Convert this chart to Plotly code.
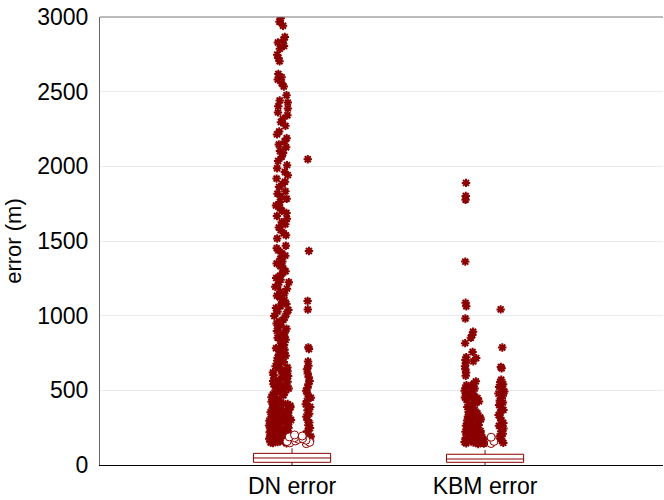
import plotly.graph_objects as go

categories = ["DN error", "KBM error"]
cat_pos = [1, 2]

# box statistics (m)
q1 = [18, 18]
median = [47, 40]
q3 = [78, 72]
lowerfence = [0, 0]
upperfence = [112, 100]

# extreme outliers, DN main column, upper part (sparser)
dn_upper = [2992, 2968, 2941, 2866, 2848, 2829, 2806, 2787, 2748, 2726, 2703,
            2619, 2597, 2581, 2556, 2534, 2476, 2441, 2427, 2403, 2388, 2361, 2342, 2318, 2296, 2271,
            2233, 2214, 2188, 2167, 2146, 2128, 2103, 2089, 2064, 2036, 2008, 1987, 1962, 1941, 1918,
            1897, 1881, 1862, 1833, 1817, 1796, 1783, 1761, 1738, 1722, 1703, 1688, 1667, 1649, 1626,
            1612, 1591, 1573, 1552, 1538, 1517, 1468, 1452, 1437, 1418, 1402, 1381, 1363, 1349, 1331,
            1318, 1297, 1283, 1268, 1252, 1241, 1224, 1207, 1193, 1181, 1162, 1148, 1133, 1121, 1104,
            1092, 1078, 1063, 1051, 1038, 1027, 1012]
# extreme outliers, main column, lower dense part
dn_lower = [998, 987, 973, 962, 948, 937, 921, 912, 898, 886,
            874, 861, 852, 838, 827, 816, 803, 794, 782, 771, 763, 751, 742, 731, 719, 708, 698, 689,
            677, 671, 662, 653, 647, 636, 628, 619, 611, 603, 596, 587, 579, 572, 563, 557, 548, 541,
            533, 527, 518, 512, 506, 499, 491, 486, 478, 472, 467, 459, 454, 448, 441, 436, 431, 424,
            419, 413, 408, 402, 397, 391, 386, 381, 377, 372, 366, 362, 357, 353, 348, 343, 339, 334,
            331, 326, 322, 317, 313, 309, 305, 301, 297, 294, 289, 286, 282, 278, 275, 271, 268, 264,
            261, 257, 254, 251, 247, 244, 241, 238, 234, 231, 228, 225, 222, 219, 216, 213, 211, 208,
            205, 202, 199, 197, 194, 191, 189, 186, 183, 181, 178, 176, 173, 171, 168, 166, 163, 161,
            158, 156, 154, 151, 149, 147, 145]
kbm_main = [893, 871, 852, 757, 716, 694, 560, 545, 528, 512, 498, 486, 471, 463, 452, 448, 437,
            426, 414, 405, 396, 388, 379, 371, 362, 355, 347, 340, 333, 325, 318, 311, 305, 298,
            292, 286, 280, 274, 268, 263, 257, 252, 247, 242, 237, 232, 228, 223, 219, 214, 210,
            206, 202, 198, 194, 190, 187, 183, 180, 176, 173, 170, 166, 163, 160, 157, 154, 151,
            148, 145, 143, 140]

# extreme outliers, right-hand column
dn_right = [2047, 1433, 1098, 1041, 788, 776, 693, 664, 641, 612, 588, 563, 541, 518, 497, 472,
            451, 428, 407, 388, 366, 344, 323, 302, 284, 266, 247, 226, 208, 191, 176, 162]
kbm_right = [1042, 787, 656, 648, 571, 556, 541, 523, 507, 492, 478, 463, 447, 432, 418, 402,
             386, 369, 352, 334, 317, 298, 281, 263, 244, 226, 209, 192, 176, 161, 148]

# extreme outliers, KBM left column
kbm_left = [1889, 1802, 1776, 1362, 1086, 1063, 981, 816, 722, 703, 684, 662, 641, 619, 597,
            534, 514, 497, 476, 452, 437]

# mild outliers (circles)
dn_circles = [201, 194, 188, 183, 177, 172, 166, 161, 157, 152, 148, 143]
kbm_circles = [186, 174, 166, 158, 151, 144]

RED = "#8b0000"
FONT = "Liberation Sans, Arial, sans-serif"

fig = go.Figure()

fig.add_trace(go.Box(
    x=cat_pos, q1=q1, median=median, q3=q3,
    lowerfence=lowerfence, upperfence=upperfence,
    boxpoints=False, width=0.4, whiskerwidth=0,
    fillcolor="white", line=dict(color=RED, width=1),
    hoverinfo="skip",
))


def points_trace(dn_vals, kbm_vals, pointpos, jitter, marker):
    xs = [cat_pos[0]] * len(dn_vals) + [cat_pos[1]] * len(kbm_vals)
    ys = list(dn_vals) + list(kbm_vals)
    return go.Box(
        x=xs, y=ys, boxpoints="all", pointpos=pointpos, jitter=jitter,
        width=0.2, fillcolor="rgba(0,0,0,0)", line=dict(width=0, color="rgba(0,0,0,0)"),
        whiskerwidth=0, marker=marker, hoverinfo="skip",
    )


star = dict(symbol="asterisk-open", size=7, color=RED, line=dict(color=RED, width=2))
circ = dict(symbol="circle", size=8, color="white", line=dict(color=RED, width=1))

fig.add_trace(points_trace([], kbm_circles, 0.0, 0.6, circ))
fig.add_trace(points_trace(dn_lower, kbm_main, -0.6, 0.6, star))
fig.add_trace(points_trace(dn_upper, [], -0.5, 0.4, star))
fig.add_trace(points_trace(dn_right, kbm_right, 0.85, 0.16, star))
fig.add_trace(points_trace([], kbm_left, -1.0, 0.08, star))
fig.add_trace(points_trace(dn_circles, [], 0.35, 0.75, circ))

fig.update_layout(
    width=664, height=500,
    margin=dict(l=100, r=1, t=17, b=35),
    plot_bgcolor="white", paper_bgcolor="white",
    showlegend=False, boxmode="overlay",
    font=dict(family=FONT, size=23, color="black"),
    xaxis=dict(
        range=[0.005, 2.922], tickvals=cat_pos, ticktext=categories,
        showgrid=False, zeroline=False, showline=True, linecolor="black", linewidth=1,
        ticks="", tickfont=dict(size=23),
    ),
    yaxis=dict(
        range=[0, 3000], tickvals=[0, 500, 1000, 1500, 2000, 2500, 3000],
        showgrid=True, gridcolor="#ebebeb", gridwidth=1, zeroline=False,
        showline=True, linecolor="#666666", linewidth=1, ticks="",
        ticklabelstandoff=6, tickfont=dict(size=23),
        title=dict(text="error (m)", font=dict(size=22), standoff=9),
    ),
    shapes=[dict(type="line", xref="paper", yref="paper", x0=0, x1=1, y0=1, y1=1,
                 line=dict(color="#777777", width=1))],
)

fig.write_html("out.html")
